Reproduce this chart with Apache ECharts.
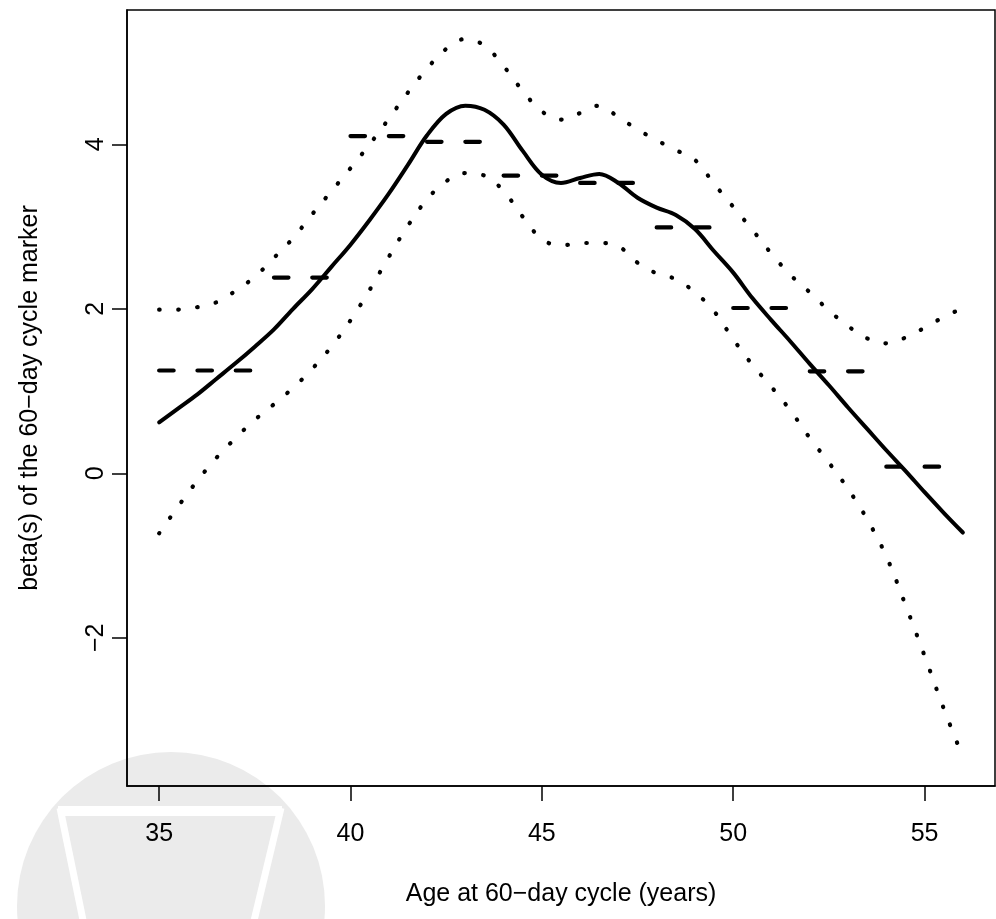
<!DOCTYPE html>
<html>
<head>
<meta charset="utf-8">
<title>beta(s) of the 60-day cycle marker</title>
<script src="https://cdn.jsdelivr.net/npm/echarts@6/dist/echarts.min.js"></script>
<style>
  html, body { margin: 0; padding: 0; background: #fff; }
  #chart { width: 996px; height: 919px; }
</style>
</head>
<body>
<div id="chart"></div>
<script>
var ages = [35, 35.5, 36, 36.5, 37, 37.5, 38, 38.5, 39, 39.5,
  40, 40.5, 41, 41.5, 42, 42.5, 43, 43.5, 44, 44.5,
  45, 45.5, 46, 46.5, 47, 47.5, 48, 48.5, 49, 49.5,
  50, 50.5, 51, 51.5, 52, 52.5, 53, 53.5, 54, 54.5,
  55, 55.5, 56]
// smooth estimate of beta(s)
var estimate = [0.62, 0.79, 0.96, 1.15, 1.34, 1.54, 1.75, 2.00, 2.24, 2.51,
  2.78, 3.08, 3.40, 3.75, 4.11, 4.37, 4.47, 4.42, 4.24, 3.92,
  3.63, 3.53, 3.59, 3.64, 3.53, 3.35, 3.23, 3.14, 2.97, 2.70,
  2.44, 2.13, 1.86, 1.60, 1.33, 1.07, 0.80, 0.54, 0.28, 0.03,
  -0.23, -0.48, -0.72]
// pointwise band
var upper = [1.99, 1.99, 2.02, 2.08, 2.22, 2.39, 2.62, 2.86, 3.15, 3.43,
  3.71, 4.00, 4.31, 4.63, 4.92, 5.16, 5.28, 5.20, 4.95, 4.65,
  4.40, 4.30, 4.38, 4.47, 4.33, 4.18, 4.05, 3.93, 3.81, 3.52,
  3.24, 2.96, 2.67, 2.41, 2.20, 1.98, 1.79, 1.64, 1.58, 1.65,
  1.77, 1.90, 2.01]
var lower = [-0.73, -0.40, -0.09, 0.19, 0.43, 0.65, 0.84, 1.04, 1.27, 1.54,
  1.86, 2.23, 2.63, 3.01, 3.33, 3.55, 3.65, 3.62, 3.43, 3.12,
  2.85, 2.77, 2.80, 2.80, 2.76, 2.56, 2.43, 2.36, 2.20, 1.97,
  1.63, 1.32, 1.05, 0.76, 0.43, 0.13, -0.19, -0.56, -1.01, -1.60,
  -2.22, -2.86, -3.45]
// age-group (piecewise constant) estimate
var stepEdges = [35, 38, 40, 42, 44, 46, 48, 50, 52, 54, 56]
var stepValues = [1.25, 2.38, 4.10, 4.03, 3.62, 3.53, 2.99, 2.01, 1.24, 0.08]

var xTicks = [35, 40, 45, 50, 55]
var yTicks = [-2, 0, 2, 4]

var X_MIN = 34.16
var X_MAX = 56.84
var Y_MIN = -3.802
var Y_MAX = 5.633

var FONT = '"Liberation Sans", Arial, Helvetica, sans-serif'

function pairs (xs, ys) {
  return xs.map(function (x, i) { return [x, ys[i]] })
}

var chart = echarts.init(document.getElementById('chart'), null, { renderer: 'canvas' })

var series = [
  {
    name: 'estimate',
    type: 'line',
    smooth: 0.35,
    showSymbol: false,
    z: 5,
    lineStyle: { color: '#000', width: 4, cap: 'round', join: 'round' },
    data: pairs(ages, estimate)
  },
  {
    name: 'upper',
    type: 'line',
    smooth: 0.4,
    showSymbol: false,
    lineStyle: { color: '#000', width: 4.2, type: [0.5, 18.6], cap: 'round' },
    data: pairs(ages, upper)
  },
  {
    name: 'lower',
    type: 'line',
    smooth: 0.4,
    showSymbol: false,
    lineStyle: { color: '#000', width: 4.2, type: [0.5, 18.6], cap: 'round' },
    data: pairs(ages, lower)
  }
]

// each age group is its own dashed segment, no vertical joins
stepValues.forEach(function (v, i) {
  series.push({
    name: 'group' + i,
    type: 'line',
    showSymbol: false,
    lineStyle: { color: '#000', width: 4.2, type: [14.5, 23.8], cap: 'round' },
    data: [[stepEdges[i], v], [stepEdges[i + 1], v]]
  })
})

var option = {
  animation: false,
  backgroundColor: '#fff',
  textStyle: { fontFamily: FONT },
  // faint logo watermark in the lower left
  graphic: [
    {
      id: 'wm-disc',
      type: 'circle',
      z: -20,
      silent: true,
      shape: { cx: 171, cy: 906, r: 154 },
      style: { fill: '#ebebeb' }
    },
    {
      id: 'wm-top',
      type: 'polyline',
      z: -19,
      silent: true,
      shape: { points: [[58, 811], [282, 811]] },
      style: { stroke: '#fff', lineWidth: 10, fill: null }
    },
    {
      id: 'wm-left',
      type: 'polyline',
      z: -19,
      silent: true,
      shape: { points: [[60, 808], [84, 925]] },
      style: { stroke: '#fff', lineWidth: 7, fill: null }
    },
    {
      id: 'wm-right',
      type: 'polyline',
      z: -19,
      silent: true,
      shape: { points: [[281, 808], [253, 925]] },
      style: { stroke: '#fff', lineWidth: 7, fill: null }
    }
  ],
  grid: {
    left: 127,
    right: 1,
    top: 10,
    bottom: 133,
    show: true,
    borderColor: '#000',
    borderWidth: 1.5,
    backgroundColor: 'transparent'
  },
  xAxis: {
    type: 'value',
    min: X_MIN,
    max: X_MAX,
    position: 'bottom',
    name: 'Age at 60\u2212day cycle (years)',
    nameLocation: 'middle',
    nameGap: 96,
    nameTextStyle: { fontSize: 25, color: '#000', fontFamily: FONT },
    axisLine: { show: true, onZero: false, lineStyle: { color: '#000', width: 1.5 } },
    axisTick: {
      show: true,
      inside: false,
      length: 15,
      customValues: xTicks,
      lineStyle: { color: '#000', width: 1.5 }
    },
    axisLabel: {
      customValues: xTicks,
      fontSize: 25,
      color: '#000',
      margin: 36,
      fontFamily: FONT
    },
    splitLine: { show: false }
  },
  yAxis: {
    type: 'value',
    min: Y_MIN,
    max: Y_MAX,
    position: 'left',
    name: 'beta(s) of the 60\u2212day cycle marker',
    nameLocation: 'middle',
    nameRotate: 90,
    nameGap: 84,
    nameTextStyle: { fontSize: 25, color: '#000', fontFamily: FONT },
    axisLine: { show: true, onZero: false, lineStyle: { color: '#000', width: 1.5 } },
    axisTick: {
      show: true,
      inside: false,
      length: 15,
      customValues: yTicks,
      lineStyle: { color: '#000', width: 1.5 }
    },
    axisLabel: {
      customValues: yTicks,
      rotate: 90,
      fontSize: 25,
      color: '#000',
      margin: 18,
      fontFamily: FONT,
      formatter: function (v) { return String(v).replace('-', '\u2212') }
    },
    splitLine: { show: false }
  },
  series: series
}

chart.setOption(option)
</script>
</body>
</html>
